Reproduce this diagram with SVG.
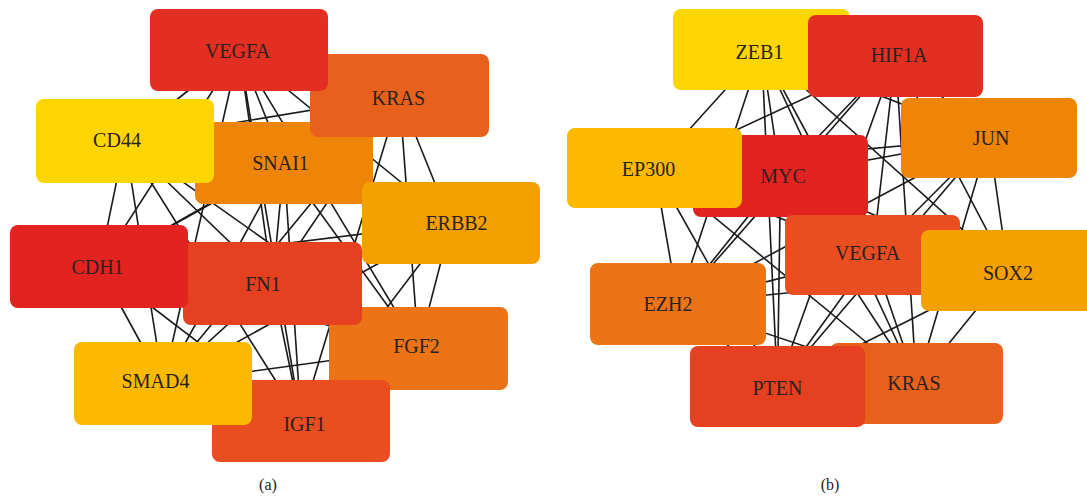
<svg xmlns="http://www.w3.org/2000/svg" width="1087" height="498" viewBox="0 0 1087 498">
<style>
.e line{stroke:#1a1a1a;stroke-width:1.6}
.n rect{rx:8;ry:8}
text{font-family:"Liberation Serif","Times New Roman",serif;font-size:20px;fill:#2a2222;text-anchor:middle}
.cap{font-size:16px;fill:#222}
</style>
<rect width="1087" height="498" fill="#fff"/>
<g id="edges-a" class="e">
<line x1="239" y1="50" x2="399.5" y2="95.5"/><line x1="239" y1="50" x2="125" y2="141"/><line x1="239" y1="50" x2="284" y2="163"/><line x1="239" y1="50" x2="451" y2="223"/><line x1="239" y1="50" x2="99" y2="266.5"/><line x1="239" y1="50" x2="272.5" y2="283.5"/><line x1="239" y1="50" x2="163" y2="383.5"/><line x1="239" y1="50" x2="418.5" y2="348.5"/><line x1="239" y1="50" x2="301" y2="421"/>
<line x1="399.5" y1="95.5" x2="125" y2="141"/><line x1="399.5" y1="95.5" x2="284" y2="163"/><line x1="399.5" y1="95.5" x2="451" y2="223"/><line x1="399.5" y1="95.5" x2="99" y2="266.5"/><line x1="399.5" y1="95.5" x2="272.5" y2="283.5"/><line x1="399.5" y1="95.5" x2="163" y2="383.5"/><line x1="399.5" y1="95.5" x2="418.5" y2="348.5"/><line x1="399.5" y1="95.5" x2="301" y2="421"/>
<line x1="125" y1="141" x2="284" y2="163"/><line x1="125" y1="141" x2="451" y2="223"/><line x1="125" y1="141" x2="99" y2="266.5"/><line x1="125" y1="141" x2="272.5" y2="283.5"/><line x1="125" y1="141" x2="163" y2="383.5"/><line x1="125" y1="141" x2="418.5" y2="348.5"/><line x1="125" y1="141" x2="301" y2="421"/>
<line x1="284" y1="163" x2="451" y2="223"/><line x1="284" y1="163" x2="99" y2="266.5"/><line x1="284" y1="163" x2="272.5" y2="283.5"/><line x1="284" y1="163" x2="163" y2="383.5"/><line x1="284" y1="163" x2="418.5" y2="348.5"/><line x1="284" y1="163" x2="301" y2="421"/>
<line x1="451" y1="223" x2="99" y2="266.5"/><line x1="451" y1="223" x2="272.5" y2="283.5"/><line x1="451" y1="223" x2="163" y2="383.5"/><line x1="451" y1="223" x2="418.5" y2="348.5"/><line x1="451" y1="223" x2="301" y2="421"/>
<line x1="99" y1="266.5" x2="272.5" y2="283.5"/><line x1="99" y1="266.5" x2="163" y2="383.5"/><line x1="99" y1="266.5" x2="418.5" y2="348.5"/><line x1="99" y1="266.5" x2="301" y2="421"/>
<line x1="272.5" y1="283.5" x2="163" y2="383.5"/><line x1="272.5" y1="283.5" x2="418.5" y2="348.5"/><line x1="272.5" y1="283.5" x2="301" y2="421"/>
<line x1="163" y1="383.5" x2="418.5" y2="348.5"/><line x1="163" y1="383.5" x2="301" y2="421"/>
<line x1="418.5" y1="348.5" x2="301" y2="421"/>
</g>
<g id="edges-b" class="e">
<line x1="761.5" y1="49.5" x2="895.5" y2="56"/><line x1="761.5" y1="49.5" x2="654.5" y2="168"/><line x1="761.5" y1="49.5" x2="780.5" y2="176"/><line x1="761.5" y1="49.5" x2="989" y2="138"/><line x1="761.5" y1="49.5" x2="872.5" y2="255"/><line x1="761.5" y1="49.5" x2="1008" y2="270.5"/><line x1="761.5" y1="49.5" x2="678" y2="304"/><line x1="761.5" y1="49.5" x2="777.5" y2="386.5"/><line x1="761.5" y1="49.5" x2="916.5" y2="383.5"/>
<line x1="895.5" y1="56" x2="654.5" y2="168"/><line x1="895.5" y1="56" x2="780.5" y2="176"/><line x1="895.5" y1="56" x2="989" y2="138"/><line x1="895.5" y1="56" x2="872.5" y2="255"/><line x1="895.5" y1="56" x2="1008" y2="270.5"/><line x1="895.5" y1="56" x2="678" y2="304"/><line x1="895.5" y1="56" x2="777.5" y2="386.5"/><line x1="895.5" y1="56" x2="916.5" y2="383.5"/>
<line x1="654.5" y1="168" x2="780.5" y2="176"/><line x1="654.5" y1="168" x2="989" y2="138"/><line x1="654.5" y1="168" x2="872.5" y2="255"/><line x1="654.5" y1="168" x2="1008" y2="270.5"/><line x1="654.5" y1="168" x2="678" y2="304"/><line x1="654.5" y1="168" x2="777.5" y2="386.5"/><line x1="654.5" y1="168" x2="916.5" y2="383.5"/>
<line x1="780.5" y1="176" x2="989" y2="138"/><line x1="780.5" y1="176" x2="872.5" y2="255"/><line x1="780.5" y1="176" x2="1008" y2="270.5"/><line x1="780.5" y1="176" x2="678" y2="304"/><line x1="780.5" y1="176" x2="777.5" y2="386.5"/><line x1="780.5" y1="176" x2="916.5" y2="383.5"/>
<line x1="989" y1="138" x2="872.5" y2="255"/><line x1="989" y1="138" x2="1008" y2="270.5"/><line x1="989" y1="138" x2="678" y2="304"/><line x1="989" y1="138" x2="777.5" y2="386.5"/><line x1="989" y1="138" x2="916.5" y2="383.5"/>
<line x1="872.5" y1="255" x2="1008" y2="270.5"/><line x1="872.5" y1="255" x2="678" y2="304"/><line x1="872.5" y1="255" x2="777.5" y2="386.5"/><line x1="872.5" y1="255" x2="916.5" y2="383.5"/>
<line x1="1008" y1="270.5" x2="678" y2="304"/><line x1="1008" y1="270.5" x2="777.5" y2="386.5"/><line x1="1008" y1="270.5" x2="916.5" y2="383.5"/>
<line x1="678" y1="304" x2="777.5" y2="386.5"/><line x1="678" y1="304" x2="916.5" y2="383.5"/>
<line x1="777.5" y1="386.5" x2="916.5" y2="383.5"/>
</g>
<g class="n">
<g id="a-SNAI1"><rect x="195" y="122" width="178" height="82" fill="#EE8508"/><text x="280.5" y="170">SNAI1</text></g>
<g id="a-KRAS"><rect x="310" y="54" width="179" height="83" fill="#E8611C"/><text x="398.5" y="105">KRAS</text></g>
<g id="a-VEGFA"><rect x="150" y="9" width="178" height="82" fill="#E32F21"/><text x="237.5" y="58">VEGFA</text></g>
<g id="a-CD44"><rect x="36" y="99" width="178" height="84" fill="#FDD500"/><text x="117" y="147">CD44</text></g>
<g id="a-ERBB2"><rect x="362" y="182" width="178" height="82" fill="#F4A000"/><text x="456.5" y="230">ERBB2</text></g>
<g id="a-FGF2"><rect x="329" y="307" width="179" height="83" fill="#EC7316"/><text x="416.5" y="353">FGF2</text></g>
<g id="a-FN1"><rect x="183" y="242" width="179" height="83" fill="#E5401F"/><text x="263" y="291">FN1</text></g>
<g id="a-CDH1"><rect x="10" y="225" width="178" height="83" fill="#E2231F"/><text x="97.5" y="274">CDH1</text></g>
<g id="a-IGF1"><rect x="212" y="380" width="178" height="82" fill="#E84E20"/><text x="304.5" y="431">IGF1</text></g>
<g id="a-SMAD4"><rect x="74" y="342" width="178" height="83" fill="#FBBA00"/><text x="155.5" y="388">SMAD4</text></g>
</g>
<g class="n">
<g id="b-ZEB1"><rect x="673" y="9" width="177" height="81" fill="#FDD500"/><text x="759.5" y="59">ZEB1</text></g>
<g id="b-HIF1A"><rect x="808" y="15" width="175" height="82" fill="#E32F21"/><text x="899" y="62">HIF1A</text></g>
<g id="b-MYC"><rect x="693" y="135" width="175" height="82" fill="#E2231F"/><text x="783" y="183">MYC</text></g>
<g id="b-EP300"><rect x="567" y="128" width="175" height="80" fill="#FBBA00"/><text x="648.5" y="176">EP300</text></g>
<g id="b-JUN"><rect x="901" y="98" width="176" height="80" fill="#EE8508"/><text x="991" y="145">JUN</text></g>
<g id="b-VEGFA"><rect x="785" y="215" width="175" height="80" fill="#E84E20"/><text x="867.5" y="260">VEGFA</text></g>
<g id="b-SOX2"><rect x="921" y="230" width="175" height="81" fill="#F4A000"/><text x="1008" y="280">SOX2</text></g>
<g id="b-EZH2"><rect x="590" y="263" width="176" height="82" fill="#EC7316"/><text x="668" y="311">EZH2</text></g>
<g id="b-KRAS"><rect x="830" y="343" width="173" height="81" fill="#E8611C"/><text x="914" y="390">KRAS</text></g>
<g id="b-PTEN"><rect x="690" y="346" width="175" height="81" fill="#E5401F"/><text x="777.5" y="395">PTEN</text></g>
</g>
<text class="cap" x="268" y="490">(a)</text>
<text class="cap" x="830" y="490">(b)</text>
</svg>
